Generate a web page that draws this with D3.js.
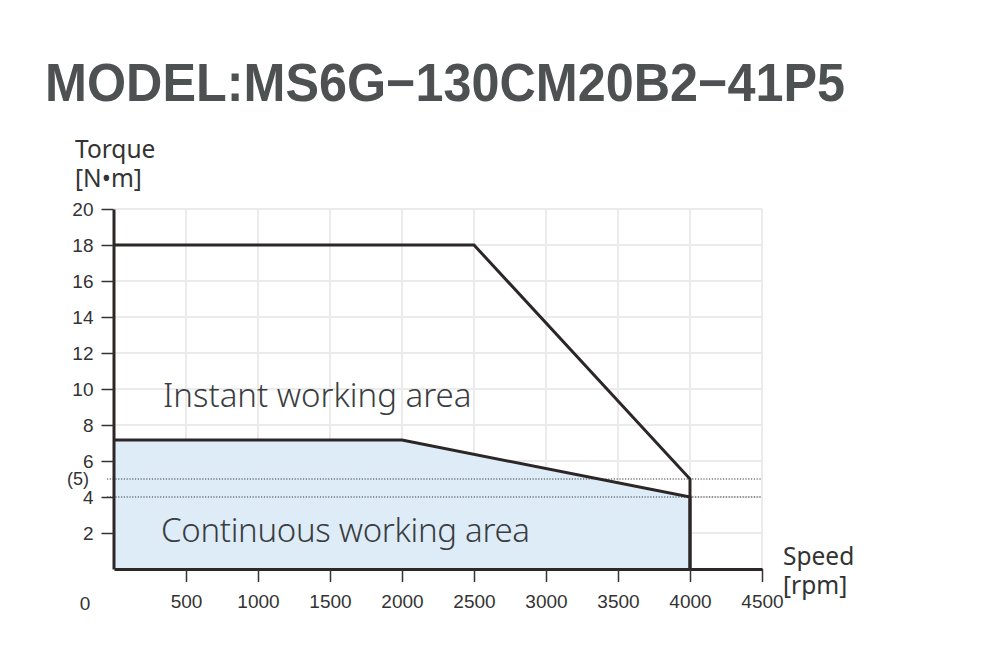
<!DOCTYPE html>
<html>
<head>
<meta charset="utf-8">
<script src="https://cdn.jsdelivr.net/npm/d3@7"></script>
<style>
  body { margin: 0; background: #fff; }
  svg { display: block; }
</style>
</head>
<body>
<svg id="torque-plot"></svg>
<script>
// chart data
const title = "MODEL:MS6G\u2212130CM20B2\u221241P5";
const xTicks = [500, 1000, 1500, 2000, 2500, 3000, 3500, 4000, 4500];
const yTicks = [2, 4, 6, 8, 10, 12, 14, 16, 18, 20];
const instantSpeed = [0, 2500, 4000, 4000];
const instantTorque = [18, 18, 5, 0];
const continuousSpeed = [0, 2000, 4000, 4000];
const continuousTorque = [7.16, 7.16, 4, 0];
const refLines = [5, 4];

const width = 997, height = 665;
const margin = { left: 114, right: 235, top: 209, bottom: 96 };

let svg = d3.select("#torque-plot")
    .attr("width", width)
    .attr("height", height);

let x = d3.scaleLinear()
    .domain([0, 4500])
    .range([margin.left, width - margin.right]);

let y = d3.scaleLinear()
    .domain([0, 20])
    .range([height - margin.bottom, margin.top]);

let tickFont = "Liberation Sans, Arial, sans-serif";

// title
svg.append("text")
    .attr("x", 45)
    .attr("y", 101)
    .attr("font-family", tickFont)
    .attr("font-weight", "bold")
    .attr("font-size", 53)
    .attr("textLength", 800)
    .attr("lengthAdjust", "spacingAndGlyphs")
    .attr("fill", "#4d5151")
    .text(title);

// grid
let grid = svg.append("g")
    .attr("stroke", "#ebebeb")
    .attr("stroke-width", 2);

grid.selectAll(".vgrid")
    .data(xTicks)
    .join("line")
    .attr("x1", d => x(d)).attr("x2", d => x(d))
    .attr("y1", y(20)).attr("y2", y(0));

grid.selectAll(".hgrid")
    .data(yTicks)
    .join("line")
    .attr("x1", x(0)).attr("x2", x(4500))
    .attr("y1", d => y(d)).attr("y2", d => y(d));

// continuous working area fill
let contPts = continuousSpeed.map((s, i) => [s, continuousTorque[i]]);
let instPts = instantSpeed.map((s, i) => [s, instantTorque[i]]);

svg.append("path")
    .datum(contPts.slice(0, 3))
    .attr("fill", "#deecf8")
    .attr("d", d3.area().x(d => x(d[0])).y0(y(0)).y1(d => y(d[1])));

// dotted reference lines at 5 and 4
svg.append("g")
    .selectAll("line")
    .data(refLines)
    .join("line")
    .attr("x1", x(0) - 7).attr("x2", x(4500))
    .attr("y1", d => y(d)).attr("y2", d => y(d))
    .attr("stroke", "#333")
    .attr("stroke-width", 1)
    .attr("stroke-dasharray", "1.2,1.6");

// axes
let yAxis = g => g
    .attr("transform", `translate(${x(0) - 0.5},0)`)
    .call(d3.axisLeft(y).tickValues(yTicks).tickSize(12).tickPadding(8).tickSizeOuter(0))
    .call(g => g.select(".domain").attr("stroke", "#2d2627").attr("stroke-width", 3))
    .call(g => g.selectAll(".tick line").attr("stroke", "#333").attr("stroke-width", 1.5))
    .call(g => g.selectAll("text")
        .attr("font-family", tickFont)
        .attr("font-size", 19).attr("fill", "#333"));

let xAxis = g => g
    .attr("transform", `translate(0,${y(0)})`)
    .call(d3.axisBottom(x).tickValues(xTicks).tickFormat(d3.format("d"))
        .tickSize(13).tickPadding(13).tickSizeOuter(0))
    .call(g => g.select(".domain").attr("stroke", "#2d2627").attr("stroke-width", 3))
    .call(g => g.selectAll(".tick line").attr("stroke", "#333").attr("stroke-width", 1.5))
    .call(g => g.selectAll("text")
        .attr("font-family", tickFont)
        .attr("font-size", 19).attr("fill", "#333"));

svg.append("g").call(yAxis);
svg.append("g").call(xAxis);

// stray "0" label and the "(5)" label
svg.append("text")
    .attr("x", 85).attr("y", 610)
    .attr("text-anchor", "middle")
    .attr("font-family", tickFont)
    .attr("font-size", 19).attr("fill", "#333")
    .text("0");

svg.append("text")
    .attr("x", 89).attr("y", y(5) + 6)
    .attr("text-anchor", "end")
    .attr("font-family", tickFont)
    .attr("font-size", 18).attr("fill", "#333")
    .text("(5)");

// curves
let line = d3.line().x(d => x(d[0])).y(d => y(d[1]));

svg.append("path")
    .datum(instPts)
    .attr("fill", "none")
    .attr("stroke", "#2d2627")
    .attr("stroke-width", 3)
    .attr("d", line);

svg.append("path")
    .datum(contPts)
    .attr("fill", "none")
    .attr("stroke", "#2d2627")
    .attr("stroke-width", 3)
    .attr("d", line);

// axis titles, two lines each
let labelFont = "Noto Sans, Open Sans, sans-serif";
[[["Torque", "[N\u2022m]"], 75, 158], [["Speed", "[rpm]"], 783, 565]]
    .forEach(t => {
        let txt = svg.append("text")
            .attr("x", t[1]).attr("y", t[2])
            .attr("font-family", labelFont)
            .attr("font-size", 24.5)
            .attr("fill", "#333");
        txt.selectAll("tspan")
            .data(t[0])
            .join("tspan")
            .attr("x", t[1])
            .attr("dy", (d, i) => i ? 28.5 : 0)
            .text(d => d);
    });

// area labels
svg.append("text")
    .attr("x", 163).attr("y", 407)
    .attr("font-family", labelFont)
    .attr("font-weight", 300)
    .attr("font-size", 33)
    .attr("fill", "#3a3d40")
    .text("Instant working area");

svg.append("text")
    .attr("x", 161).attr("y", 542)
    .attr("font-family", labelFont)
    .attr("font-weight", 300)
    .attr("font-size", 33)
    .attr("textLength", 369)
    .attr("fill", "#3a3d40")
    .text("Continuous working area");
</script>
</body>
</html>
